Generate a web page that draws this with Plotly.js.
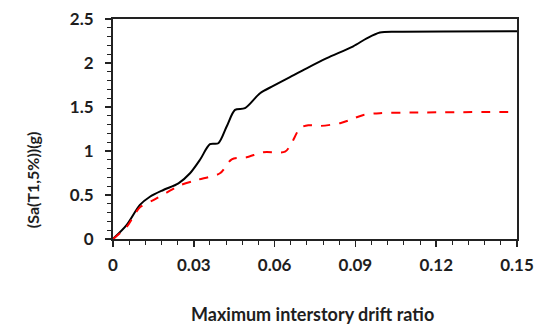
<!DOCTYPE html>
<html><head><meta charset="utf-8">
<script src="https://cdn.plot.ly/plotly-3.0.1.min.js"></script>
<style>html,body{margin:0;padding:0;background:#fff}</style>
</head><body><div id="chart" style="width:535px;height:326px"></div>
<script>
const blackX = [0, 0.0051, 0.0100, 0.0137, 0.0187, 0.0243, 0.0286, 0.0323, 0.0360, 0.0391, 0.0422, 0.0453, 0.0490, 0.0546, 0.0595, 0.0657, 0.0719, 0.0794, 0.0892, 0.0942, 0.0991, 0.1066, 0.15];
const blackY = [0, 0.16, 0.387, 0.48, 0.557, 0.633, 0.747, 0.90, 1.077, 1.088, 1.278, 1.467, 1.487, 1.657, 1.74, 1.84, 1.94, 2.055, 2.19, 2.28, 2.347, 2.355, 2.36];
const redX = [0, 0.0051, 0.0100, 0.0150, 0.0199, 0.0249, 0.0311, 0.0397, 0.0441, 0.0496, 0.0558, 0.0639, 0.0663, 0.0694, 0.0725, 0.0769, 0.0843, 0.0880, 0.0930, 0.0991, 0.1128, 0.15];
const redY = [0, 0.14, 0.36, 0.443, 0.527, 0.61, 0.67, 0.747, 0.906, 0.929, 0.986, 0.993, 1.088, 1.259, 1.293, 1.285, 1.316, 1.354, 1.41, 1.43, 1.437, 1.445];
const xTicks = [0, 0.03, 0.06, 0.09, 0.12, 0.15];
const xTickText = ['0', '0.03', '0.06', '0.09', '0.12', '0.15'];
const yTicks = [0, 0.5, 1, 1.5, 2, 2.5];
const yTickText = ['0', '0.5', '1', '1.5', '2', '2.5'];

const fam = 'Lato, "Open Sans", sans-serif';
const ink = '#1e1e1e';
const traces = [
  {x: blackX, y: blackY, mode: 'lines', line: {color: '#000', width: 2, shape: 'spline', smoothing: 0.8}, hoverinfo: 'skip'},
  {x: redX, y: redY, mode: 'lines', line: {color: '#ff0000', width: 2, dash: 'dash', shape: 'spline', smoothing: 0.8}, hoverinfo: 'skip'}
];
const layout = {
  width: 535, height: 326,
  margin: {l: 113, r: 18, t: 19, b: 87},
  showlegend: false,
  paper_bgcolor: '#fff', plot_bgcolor: '#fff',
  font: {family: fam, size: 15, color: ink},
  xaxis: {
    range: [0, 0.15], tickvals: xTicks, ticktext: xTickText,
    showgrid: false, zeroline: false,
    showline: true, linecolor: '#222', linewidth: 2, mirror: true,
    ticks: 'outside', ticklen: 6, tickwidth: 1.5, tickcolor: '#222',
    minor: {dtick: 0.006, ticks: 'outside', ticklen: 4, tickwidth: 1, tickcolor: '#222', showgrid: false},
    ticklabelstandoff: 4,
    tickfont: {family: fam, size: 17, color: ink, weight: 'bold'}
  },
  yaxis: {
    range: [0, 2.5], tickvals: yTicks, ticktext: yTickText,
    showgrid: false, zeroline: false,
    showline: true, linecolor: '#222', linewidth: 2, mirror: true,
    ticks: 'outside', ticklen: 6, tickwidth: 1.5, tickcolor: '#222',
    minor: {dtick: 0.1, ticks: 'outside', ticklen: 4, tickwidth: 1, tickcolor: '#222', showgrid: false},
    ticklabelstandoff: 8,
    tickfont: {family: fam, size: 17, color: ink, weight: 'bold'}
  },
  annotations: [
    {text: 'Maximum interstory drift ratio', xref: 'paper', yref: 'paper', x: 0.4926, y: -0.341, yanchor: 'middle', xanchor: 'center', showarrow: false,
     font: {family: fam, size: 18, color: ink, weight: 'bold'}},
    {text: '(Sa(T1,5%))(g)', xref: 'paper', yref: 'paper', x: -0.2005, y: 0.272, xanchor: 'center', yanchor: 'middle', textangle: -90, showarrow: false,
     font: {family: fam, size: 16, color: ink, weight: 'bold'}}
  ]
};
Plotly.newPlot('chart', traces, layout, {displayModeBar: false, staticPlot: true});
</script></body></html>
